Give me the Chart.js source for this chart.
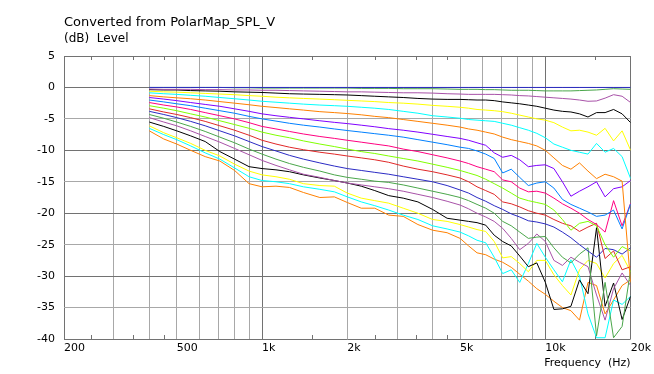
<!DOCTYPE html>
<html>
<head>
<meta charset="utf-8">
<title>Converted from PolarMap_SPL_V</title>
<script src="https://cdn.jsdelivr.net/npm/chart.js@4/dist/chart.umd.min.js"></script>
<style>
  html, body { margin: 0; padding: 0; background: #fff; }
  #wrap { width: 654px; height: 374px; }
</style>
</head>
<body>
<div id="wrap"><canvas id="chart" width="654" height="374"></canvas></div>
<script>
// Frequencies (Hz) shared by every curve
const freqs = [400, 450, 500, 560, 630, 710, 800, 900,
  1000, 1120, 1250, 1400, 1600, 1800, 2000, 2240, 2500, 2800, 3150, 3550, 4000, 4500,
  5000, 5360, 5740, 6160, 6600, 7070, 7580, 8120, 8710, 9330,
  10000, 10720, 11490, 12310, 13200, 14140, 15160, 16250, 17410, 18660, 20000];

// Level (dB) per angle
const spl00 = [0, 0, 0, 0, 0, 0, 0, 0,
  0, 0, 0, 0, 0, 0, 0, 0, 0, 0, 0, 0, 0, 0,
  0, 0, 0, 0, 0, 0, 0, 0, 0, 0,
  0, 0, 0, 0, 0, 0, 0, 0, 0, 0, 0];
const spl05 = [0, 0, 0, 0, 0, 0, -0.05, -0.05,
  -0.1, -0.1, -0.1, -0.1, -0.1, -0.1, -0.1, -0.15, -0.15, -0.15, -0.2, -0.2, -0.2, -0.25,
  -0.3, -0.3, -0.3, -0.35, -0.35, -0.4, -0.45, -0.45, -0.45, -0.5,
  -0.55, -0.55, -0.55, -0.55, -0.5, -0.45, -0.4, -0.3, -0.2, -0.25, -0.3];
const spl10 = [-0.25, -0.3, -0.3, -0.3, -0.35, -0.35, -0.4, -0.4,
  -0.45, -0.45, -0.5, -0.55, -0.6, -0.65, -0.7, -0.7, -0.75, -0.8, -0.85, -0.85, -0.9, -1.0,
  -1.05, -1.1, -1.1, -1.1, -1.1, -1.15, -1.2, -1.3, -1.35, -1.45,
  -1.55, -1.65, -1.75, -1.85, -2.0, -2.2, -2.15, -1.7, -1.15, -1.4, -2.4];
const spl15 = [-0.35, -0.4, -0.4, -0.5, -0.55, -0.6, -0.7, -0.75,
  -0.8, -0.9, -1.0, -1.05, -1.1, -1.15, -1.2, -1.3, -1.4, -1.5, -1.6, -1.75, -1.85, -1.9,
  -1.9, -1.95, -2.0, -2.0, -2.1, -2.3, -2.45, -2.6, -2.8, -3.0,
  -3.3, -3.6, -3.8, -3.9, -4.2, -4.7, -4.0, -4.0, -3.5, -4.2, -5.6];
const spl20 = [-0.6, -0.7, -0.75, -0.85, -0.95, -1.05, -1.15, -1.3,
  -1.4, -1.55, -1.65, -1.75, -1.85, -1.95, -2.05, -2.15, -2.25, -2.4, -2.5, -2.65, -2.85, -3.0,
  -3.15, -3.3, -3.5, -3.6, -3.7, -3.85, -4.1, -4.4, -4.7, -5.0,
  -5.2, -5.6, -6.3, -6.9, -6.8, -7.1, -7.6, -6.5, -8.5, -6.9, -10.0];
const spl25 = [-0.85, -1.0, -1.1, -1.25, -1.4, -1.6, -1.8, -2.0,
  -2.2, -2.35, -2.5, -2.65, -2.8, -2.9, -3.0, -3.15, -3.3, -3.5, -3.8, -4.1, -4.5, -4.7,
  -4.9, -5.1, -5.2, -5.3, -5.4, -5.7, -6.0, -6.4, -6.8, -7.3,
  -8.0, -9.0, -9.5, -10.0, -10.3, -10.6, -8.9, -10.3, -9.7, -11.0, -14.5];
const spl30 = [-1.3, -1.5, -1.65, -1.8, -2.0, -2.25, -2.5, -2.75,
  -3.0, -3.2, -3.4, -3.6, -3.85, -4.0, -4.15, -4.35, -4.6, -4.8, -5.1, -5.4, -5.7, -6.0,
  -6.3, -6.6, -6.8, -7.1, -7.4, -7.9, -8.3, -8.6, -8.9, -9.3,
  -10.0, -11.2, -12.4, -13.0, -12.0, -13.3, -14.5, -13.8, -14.2, -14.9, -31.0];
const spl35 = [-1.6, -1.85, -2.1, -2.4, -2.7, -3.0, -3.4, -3.8,
  -4.2, -4.5, -4.75, -5.0, -5.3, -5.55, -5.75, -6.0, -6.25, -6.55, -6.8, -7.1, -7.45, -7.8,
  -8.1, -8.4, -8.8, -9.2, -10.4, -11.1, -10.8, -11.5, -12.6, -12.4,
  -12.3, -12.9, -15.0, -17.3, -16.5, -15.8, -15.0, -17.4, -16.1, -15.8, -14.8];
const spl40 = [-2.0, -2.3, -2.6, -2.9, -3.3, -3.7, -4.1, -4.6,
  -5.0, -5.35, -5.7, -6.0, -6.3, -6.6, -6.85, -7.1, -7.35, -7.6, -7.9, -8.3, -8.7, -9.1,
  -9.5, -9.7, -10.1, -10.6, -11.3, -13.6, -13.0, -14.3, -15.6, -15.2,
  -15.0, -16.0, -17.8, -18.6, -19.2, -19.8, -20.5, -20.3, -19.5, -22.5, -18.5];
const spl45 = [-2.4, -2.8, -3.1, -3.5, -4.0, -4.5, -5.0, -5.6,
  -6.2, -6.6, -7.0, -7.4, -7.8, -8.1, -8.4, -8.7, -9.0, -9.3, -9.8, -10.2, -10.7, -11.2,
  -11.7, -12.1, -12.6, -13.0, -13.4, -14.7, -15.0, -16.0, -16.6, -16.5,
  -16.8, -17.6, -18.5, -19.2, -20.0, -21.0, -21.8, -23.0, -18.0, -22.0, -18.4];
const spl50 = [-2.9, -3.3, -3.7, -4.2, -4.7, -5.3, -5.9, -6.5,
  -7.1, -7.6, -8.0, -8.5, -9.0, -9.4, -9.8, -10.2, -10.5, -10.9, -11.3, -11.7, -12.2, -12.7,
  -13.2, -13.6, -14.0, -14.6, -15.3, -16.0, -16.8, -17.6, -18.0, -18.3,
  -18.6, -19.5, -21.0, -22.7, -21.6, -21.3, -22.0, -25.0, -27.0, -25.3, -26.0];
const spl55 = [-3.4, -3.9, -4.3, -4.8, -5.4, -6.1, -6.8, -7.6,
  -8.4, -9.0, -9.5, -9.9, -10.3, -10.6, -10.9, -11.2, -11.5, -11.9, -12.5, -13.0, -13.4, -13.9,
  -14.4, -15.0, -15.8, -16.4, -17.0, -18.2, -18.5, -19.0, -19.6, -20.0,
  -20.3, -21.0, -21.6, -22.0, -22.9, -22.2, -21.6, -27.2, -26.0, -29.0, -28.5];
const spl60 = [-3.8, -4.3, -4.8, -5.4, -6.1, -6.9, -7.7, -8.6,
  -9.4, -10.1, -10.8, -11.4, -12.0, -12.5, -12.9, -13.2, -13.5, -13.8, -14.2, -14.6, -15.0, -15.6,
  -16.3, -16.8, -17.5, -18.1, -18.8, -19.4, -20.1, -20.6, -21.2, -21.4,
  -21.7, -22.2, -23.0, -23.9, -25.0, -26.0, -27.0, -25.6, -25.8, -26.5, -25.5];
const spl65 = [-4.3, -4.9, -5.5, -6.2, -7.0, -7.9, -8.8, -9.8,
  -10.6, -11.4, -12.1, -12.7, -13.3, -13.9, -14.3, -14.6, -14.9, -15.1, -15.5, -16.0, -16.5, -17.0,
  -17.5, -18.0, -18.6, -19.2, -20.0, -21.3, -22.0, -23.0, -24.0, -23.8,
  -23.7, -25.5, -27.0, -27.9, -26.5, -25.5, -39.5, -31.0, -39.8, -38.0, -29.0];
const spl70 = [-4.8, -5.5, -6.1, -6.9, -7.8, -8.7, -9.7, -10.7,
  -11.6, -12.4, -13.1, -13.8, -14.3, -14.8, -15.2, -15.5, -15.8, -16.1, -16.5, -17.0, -17.5, -18.1,
  -18.7, -19.3, -20.0, -20.6, -21.3, -22.4, -24.0, -25.8, -24.8, -23.3,
  -24.5, -27.5, -28.3, -27.0, -27.8, -28.5, -33.0, -37.0, -32.0, -29.5, -31.5];
const spl75 = [-5.5, -6.2, -6.9, -7.7, -8.6, -10.2, -11.4, -12.6,
  -12.9, -13.1, -13.4, -13.9, -14.4, -14.8, -15.2, -15.7, -16.4, -17.2, -17.6, -18.2, -19.4, -20.8,
  -21.1, -21.3, -21.5, -21.9, -23.5, -24.5, -25.2, -26.8, -28.5, -27.9,
  -31.0, -35.3, -35.2, -34.8, -30.6, -32.8, -22.3, -34.8, -31.1, -36.9, -33.2];
const spl80 = [-6.1, -7.2, -8.0, -8.9, -10.0, -10.9, -12.2, -13.3,
  -13.9, -14.2, -14.6, -15.3, -15.6, -15.7, -16.8, -17.6, -18.0, -18.4, -19.2, -20.0, -21.0, -21.3,
  -21.8, -22.2, -22.6, -22.9, -24.5, -27.1, -26.9, -28.0, -29.3, -27.5,
  -27.5, -29.8, -31.5, -33.0, -29.0, -27.5, -28.0, -30.3, -28.0, -26.7, -29.3];
const spl85 = [-6.5, -7.5, -8.3, -9.3, -10.4, -11.4, -12.8, -14.2,
  -14.8, -15.0, -15.3, -15.8, -16.2, -16.6, -17.4, -18.2, -18.8, -19.5, -20.3, -21.0, -22.0, -22.5,
  -23.0, -23.6, -24.3, -24.7, -27.0, -29.6, -29.0, -31.0, -28.0, -24.8,
  -27.0, -29.0, -30.9, -27.4, -30.0, -36.0, -39.8, -39.8, -33.8, -34.5, -33.2];
const spl90 = [-6.9, -8.2, -9.0, -10.0, -11.0, -11.7, -13.2, -15.3,
  -15.8, -15.7, -15.9, -16.7, -17.5, -17.4, -18.3, -19.2, -19.2, -20.3, -20.5, -21.8, -22.7, -23.1,
  -24.0, -25.2, -26.3, -26.6, -27.3, -27.8, -28.6, -29.7, -30.8, -32.0,
  -32.9, -34.0, -35.0, -35.5, -37.0, -31.0, -31.5, -36.0, -33.8, -31.5, -30.6];

const angles = ['0°', '5°', '10°', '15°', '20°', '25°', '30°', '35°', '40°', '45°',
  '50°', '55°', '60°', '65°', '70°', '75°', '80°', '85°', '90°'];
const levels = [spl00, spl05, spl10, spl15, spl20, spl25, spl30, spl35, spl40, spl45,
  spl50, spl55, spl60, spl65, spl70, spl75, spl80, spl85, spl90];

// Axis ticks
const yTicks = [5, 0, -5, -10, -15, -20, -25, -30, -35, -40];
const yTickLabels = ['5', '0', '-5', '-10', '-15', '-20', '-25', '-30', '-35', '-40'];
const xGridValues = [200, 300, 400, 500, 600, 700, 800, 900, 1000,
  2000, 3000, 4000, 5000, 6000, 7000, 8000, 9000, 10000, 20000];
const xLabelValues = [200, 500, 1000, 2000, 5000, 10000, 20000];
const xLabelTexts = ['200', '500', '1k', '2k', '5k', '10k', '20k'];
const xMinorTicks = [250, 350, 450, 1500, 2500, 3500, 4500, 15000];
const xDarkLines = [200, 1000, 10000, 20000];

// Colours of the curves (cycle of 12)
const palette = ['#2b2bc4', '#4aa64a', '#a852a8', '#000000', '#ffff00', '#00ffff',
  '#ff8000', '#8000ff', '#0080ff', '#ff0080', '#80ff00', '#e02828'];

const DARK = '#727272';
const LIGHT = '#a8a8a8';
const FONT = 'DejaVu Sans, Verdana, sans-serif';

const datasets = levels.map((vals, i) => ({
    label: angles[i],
    data: freqs.map((f, k) => ({x: f, y: vals[k]})),
    borderColor: palette[i % palette.length],
    backgroundColor: palette[i % palette.length],
    borderWidth: 1,
    pointRadius: 0,
    tension: 0,
    fill: false,
    clip: 0
}));

// Title lines at the top left
const headerPlugin = {
    id: 'header',
    beforeDraw(chart) {
        const ctx = chart.ctx;
        ctx.save();
        ctx.fillStyle = '#fff';
        ctx.fillRect(0, 0, chart.width, chart.height);
        ctx.restore();
    },
    afterDraw(chart) {
        const ctx = chart.ctx;
        const left = chart.chartArea.left;
        ctx.save();
        ctx.fillStyle = '#000';
        ctx.textAlign = 'left';
        ctx.textBaseline = 'alphabetic';
        ctx.font = '13px ' + FONT;
        ctx.fillText('Converted from PolarMap_SPL_V', left, 26);
        ctx.font = '12px ' + FONT;
        ctx.fillText('(dB)  Level', left, 42);
        ctx.restore();
    }
};

// Small ticks on top and bottom edges
const minorTickPlugin = {
    id: 'minorTicks',
    beforeDatasetsDraw(chart) {
        const ctx = chart.ctx;
        const {top, bottom} = chart.chartArea;
        const xs = chart.scales.x;
        ctx.save();
        ctx.strokeStyle = DARK;
        ctx.lineWidth = 1;
        ctx.beginPath();
        xMinorTicks.forEach(v => {
            const px = Math.round(xs.getPixelForValue(v)) + 0.5;
            ctx.moveTo(px, top);
            ctx.lineTo(px, top + 4);
            ctx.moveTo(px, bottom);
            ctx.lineTo(px, bottom - 4);
        });
        ctx.stroke();
        ctx.restore();
    }
};

new Chart(document.getElementById('chart'), {
    type: 'line',
    data: { datasets },
    options: {
        responsive: false,
        animation: false,
        devicePixelRatio: 1,
        layout: { padding: { top: 56, right: 22, left: 0, bottom: 0 } },
        plugins: {
            legend: { display: false },
            tooltip: { enabled: false }
        },
        scales: {
            x: {
                type: 'logarithmic',
                min: 200,
                max: 20000,
                afterBuildTicks: s => { s.ticks = xGridValues.map(v => ({value: v})); },
                afterFit: s => { s.height = 35; },
                ticks: {
                    autoSkip: false,
                    maxRotation: 0,
                    minRotation: 0,
                    align: 'start',
                    padding: 3,
                    color: '#000',
                    font: { family: FONT, size: 11 },
                    callback: v => {
                        const i = xLabelValues.indexOf(v);
                        return i >= 0 ? xLabelTexts[i] : '';
                    }
                },
                grid: {
                    drawTicks: false,
                    lineWidth: 1,
                    color: c => xDarkLines.includes(c.tick && c.tick.value) ? DARK : LIGHT
                },
                border: { display: false },
                title: {
                    display: true,
                    text: 'Frequency  (Hz)',
                    align: 'end',
                    color: '#000',
                    font: { family: FONT, size: 11 },
                    padding: { top: 0, bottom: 4 }
                }
            },
            y: {
                min: -40,
                max: 5,
                afterBuildTicks: s => { s.ticks = yTicks.map(v => ({value: v})); },
                afterFit: s => { s.width = 64; },
                ticks: {
                    padding: 9,
                    color: '#000',
                    font: { family: FONT, size: 11 },
                    callback: v => {
                        const i = yTicks.indexOf(v);
                        return i >= 0 ? yTickLabels[i] : '';
                    }
                },
                grid: {
                    drawTicks: false,
                    lineWidth: 1,
                    color: c => (c.tick && (c.tick.value % 10 === 0 || c.tick.value === 5)) ? DARK : LIGHT
                },
                border: { display: false }
            }
        }
    },
    plugins: [headerPlugin, minorTickPlugin]
});
</script>
</body>
</html>
